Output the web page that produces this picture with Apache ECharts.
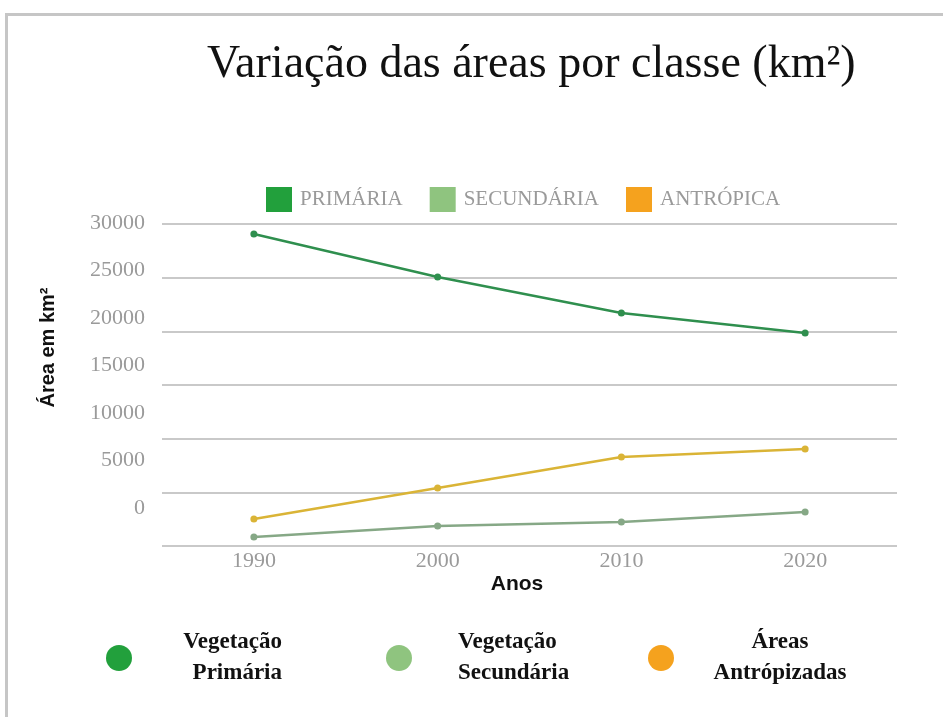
<!DOCTYPE html>
<html>
<head>
<meta charset="utf-8">
<script src="https://cdn.jsdelivr.net/npm/echarts@6/dist/echarts.min.js"></script>
<style>
  html, body { margin: 0; padding: 0; background: #fff; }
  #chart { width: 943px; height: 717px; }
  .frame { position: absolute; left: 5px; top: 13px; width: 950px; height: 720px;
           border-top: 3px solid #c6c6c6; border-left: 3px solid #c6c6c6; pointer-events: none; }
</style>
</head>
<body>
<div id="chart"></div>
<div class="frame"></div>
<script>
// dados
const anos = ['1990', '2000', '2010', '2020']
const primaria = [29070, 25060, 21710, 19850]
const secundaria = [840, 1860, 2240, 3170]
const antropica = [2520, 5400, 8290, 9040]

const nomes = ['PRIMÁRIA', 'SECUNDÁRIA', 'ANTRÓPICA']
const rotulos = [['Vegetação', 'Primária'], ['Vegetação', 'Secundária'], ['Áreas', 'Antrópizadas']]
const corLinha = ['#2f8f4e', '#86a886', '#dab436']
const corLegenda = ['#22a03c', '#8fc47f', '#f5a21e']

const serif = 'Liberation Serif'
const sans = 'Liberation Sans'

const chart = echarts.init(document.getElementById('chart'))

function bottomLegend(i, left, gap, align) {
  return {
    data: [{ name: nomes[i], itemStyle: { color: corLegenda[i] } }],
    left: left,
    top: 626,
    icon: 'circle',
    itemWidth: 26,
    itemHeight: 26,
    selectedMode: false,
    formatter: () => rotulos[i].map(s => '{t|' + s + '}').join('\n'),
    textStyle: {
      padding: [0, 0, 0, gap],
      rich: {
        t: {
          width: 132, align: align, fontFamily: serif, fontWeight: 'bold',
          fontSize: 23, lineHeight: 31, color: '#111'
        }
      }
    }
  }
}

chart.setOption({
  backgroundColor: '#fff',
  animation: false,
  title: {
    text: 'Variação das áreas por classe (km²)',
    left: 202,
    top: 37,
    textStyle: { fontFamily: serif, fontWeight: 'normal', fontSize: 46, color: '#111' }
  },
  legend: [
    {
      data: nomes.map((n, i) => ({ name: n, itemStyle: { color: corLegenda[i] } })),
      left: 261,
      top: 182,
      icon: 'rect',
      itemWidth: 26,
      itemHeight: 25,
      itemGap: 27,
      selectedMode: false,
      textStyle: { fontFamily: serif, fontSize: 21, color: '#9a9a9a', padding: [0, 0, 0, 3] }
    },
    bottomLegend(0, 101, 13, 'right'),
    bottomLegend(1, 381, 41, 'left'),
    bottomLegend(2, 643, 35, 'center')
  ],
  grid: [
    // grade das séries
    { left: 162, right: 46, top: 224, bottom: 171 },
    // grade só para os rótulos do eixo y (deslocados no original)
    { left: 162, right: 46, top: 223, bottom: 209 }
  ],
  xAxis: [
    {
      type: 'category',
      gridIndex: 0,
      data: anos,
      axisLine: { show: false },
      axisTick: { show: false },
      axisLabel: { fontFamily: serif, fontSize: 22, color: '#9a9a9a', margin: 4 },
      name: 'Anos',
      nameLocation: 'middle',
      nameGap: 28,
      nameTextStyle: { fontFamily: sans, fontWeight: 'bold', fontSize: 21, color: '#111', padding: [0, 25, 0, 0] }
    },
    { type: 'value', gridIndex: 1, min: 0, max: 1, show: false }
  ],
  yAxis: [
    {
      type: 'value',
      gridIndex: 0,
      min: 0,
      max: 30000,
      interval: 5000,
      axisLabel: { show: false },
      axisLine: { show: false },
      axisTick: { show: false },
      splitLine: { lineStyle: { color: '#c9c9c9', width: 2 } }
    },
    {
      type: 'value',
      gridIndex: 1,
      min: 0,
      max: 30000,
      interval: 5000,
      axisLine: { show: false },
      axisTick: { show: false },
      splitLine: { show: false },
      axisLabel: { fontFamily: serif, fontSize: 22, color: '#9a9a9a', margin: 17, formatter: v => String(v) },
      name: 'Área em km²',
      nameLocation: 'middle',
      nameRotate: 90,
      nameGap: 104,
      nameTextStyle: { fontFamily: sans, fontWeight: 'bold', fontSize: 20, color: '#111', padding: [0, 0, 0, 36] }
    }
  ],
  series: [primaria, secundaria, antropica].map((d, i) => ({
    name: nomes[i],
    type: 'line',
    xAxisIndex: 0,
    yAxisIndex: 0,
    data: d,
    symbol: 'circle',
    symbolSize: 7,
    itemStyle: { color: corLinha[i] },
    lineStyle: { color: corLinha[i], width: 2.5 }
  }))
})
</script>
</body>
</html>
